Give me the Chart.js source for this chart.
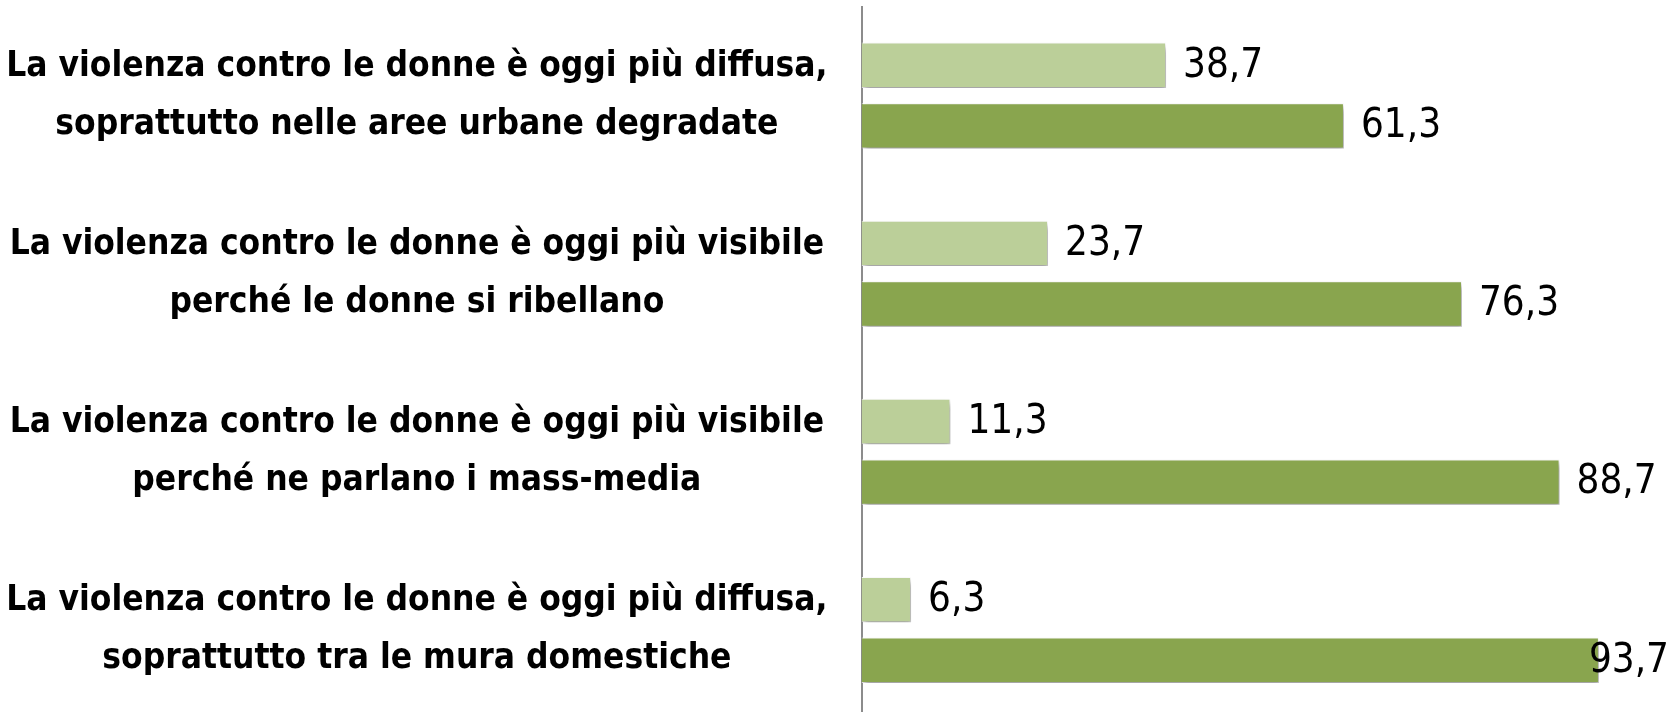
<!DOCTYPE html>
<html>
<head>
<meta charset="utf-8">
<script src="https://cdn.jsdelivr.net/npm/chart.js@4.4.1/dist/chart.umd.min.js"></script>
<style>
  html, body { margin: 0; padding: 0; background: #fff; overflow: hidden; }
  #wrap { width: 1673px; height: 719px; }
</style>
</head>
<body>
<div id="wrap"><canvas id="myChart"></canvas></div>
<script>
const categories = [
  ["La violenza contro le donne è oggi più diffusa,", "soprattutto nelle aree urbane degradate"],
  ["La violenza contro le donne è oggi più visibile", "perché le donne si ribellano"],
  ["La violenza contro le donne è oggi più visibile", "perché ne parlano i mass-media"],
  ["La violenza contro le donne è oggi più diffusa,", "soprattutto tra le mura domestiche"]
];
const lightValues = [38.7, 23.7, 11.3, 6.3];
const darkValues = [61.3, 76.3, 88.7, 93.7];

const lightGreen = "#bbcf99";
const darkGreen = "#89a54e";
const fontFamily = "'DejaVu Sans Condensed', 'Liberation Sans Narrow', 'Liberation Sans', sans-serif";

// soft drop shadow under the bars, like the original spreadsheet chart
const barShadow = {
  id: 'barShadow',
  beforeDatasetsDraw(chart) {
    const c = chart.ctx;
    c.save();
    c.shadowColor = "rgba(0,0,0,0.4)";
    c.shadowBlur = 6;
    c.shadowOffsetX = 2;
    c.shadowOffsetY = 4;
  },
  afterDatasetsDraw(chart) {
    chart.ctx.restore();
  }
};

// value labels at the end of every bar, Italian decimal comma
const valueLabels = {
  id: 'valueLabels',
  afterDatasetsDraw(chart) {
    const c = chart.ctx;
    c.save();
    c.font = "40px " + fontFamily;
    c.fillStyle = "#000";
    c.textBaseline = "middle";
    c.textAlign = "left";
    chart.data.datasets.forEach((ds, i) => {
      chart.getDatasetMeta(i).data.forEach((bar, j) => {
        const txt = ds.data[j].toFixed(1).replace(".", ",");
        const w = c.measureText(txt).width;
        const x = Math.min(bar.x + 17, chart.width - w - 4);
        c.fillText(txt, x, bar.y + 1);
      });
    });
    c.restore();
  }
};

const ctx = document.getElementById('myChart').getContext('2d');
Chart.defaults.font.family = fontFamily;
Chart.defaults.color = "#000";

const chart = new Chart(ctx, {
  type: 'bar',
  data: {
    labels: categories,
    datasets: [{
      label: "Serie 1",
      data: lightValues,
      backgroundColor: lightGreen,
      borderColor: "rgba(255,255,255,0.9)",
      borderWidth: 1,
      categoryPercentage: 0.68,
      barPercentage: 0.75
    }, {
      label: "Serie 2",
      data: darkValues,
      backgroundColor: darkGreen,
      borderColor: "rgba(255,255,255,0.9)",
      borderWidth: 1,
      categoryPercentage: 0.68,
      barPercentage: 0.75
    }]
  },
  options: {
    indexAxis: 'y',
    responsive: true,
    maintainAspectRatio: false,
    animation: false,
    layout: { padding: { top: 6.5, right: 24.5, bottom: 0, left: 0 } },
    plugins: {
      legend: { display: false },
      tooltip: { enabled: false }
    },
    scales: {
      x: {
        display: false,
        min: 0,
        max: 100
      },
      y: {
        afterFit: (scale) => {
          scale.width = 861.5;
          scale.paddingTop = 0;
          scale.paddingBottom = 0;
        },
        grid: { display: false, drawTicks: false },
        border: { display: true, color: "#8c8c8c", width: 2 },
        ticks: {
          crossAlign: 'center',
          padding: 34,
          color: "#000",
          font: { size: 35, weight: 'bold', lineHeight: 1.66 }
        }
      }
    }
  },
  plugins: [barShadow, valueLabels]
});
</script>
</body>
</html>
